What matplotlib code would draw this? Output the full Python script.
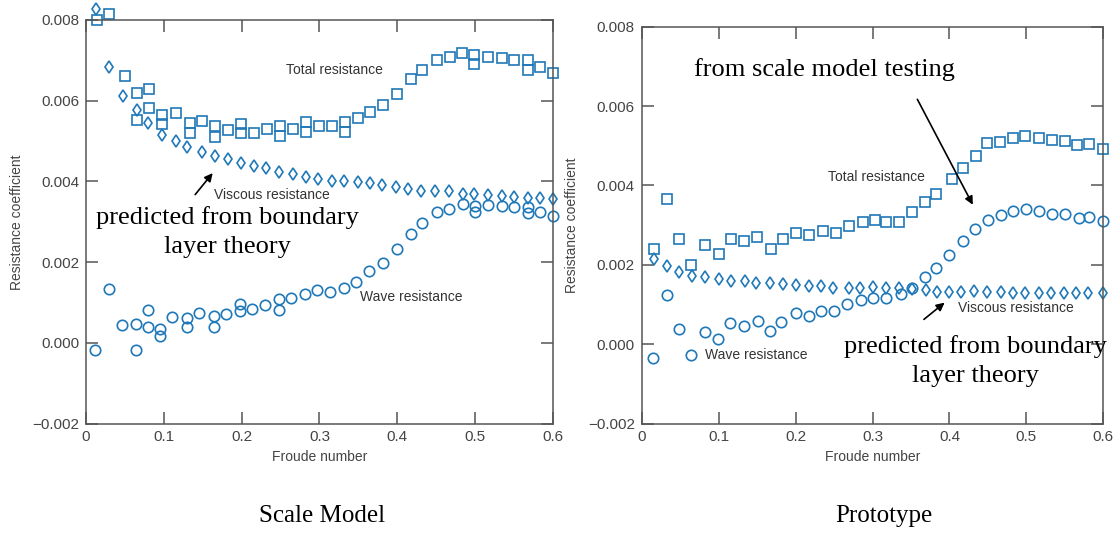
import numpy as np
import matplotlib.pyplot as plt

# ---- Scale model (left) ----
sm_total_f = [0.014, 0.029, 0.050, 0.065, 0.065, 0.081, 0.081, 0.097, 0.097, 0.116, 0.133, 0.133,
              0.149, 0.166, 0.166, 0.182, 0.199, 0.199, 0.216, 0.232, 0.249, 0.249, 0.266, 0.283,
              0.283, 0.299, 0.316, 0.333, 0.333, 0.349, 0.365, 0.382, 0.399, 0.417, 0.432, 0.451,
              0.468, 0.483, 0.499, 0.499, 0.517, 0.534, 0.550, 0.568, 0.568, 0.584, 0.600]
sm_total_c = [0.00800, 0.00814, 0.00660, 0.00620, 0.00552, 0.00628, 0.00583, 0.00564, 0.00542,
              0.00569, 0.00545, 0.00521, 0.00550, 0.00537, 0.00511, 0.00527, 0.00542, 0.00519,
              0.00521, 0.00530, 0.00537, 0.00512, 0.00531, 0.00546, 0.00523, 0.00537, 0.00537,
              0.00548, 0.00523, 0.00556, 0.00571, 0.00589, 0.00616, 0.00653, 0.00677, 0.00702,
              0.00709, 0.00717, 0.00713, 0.00692, 0.00709, 0.00705, 0.00702, 0.00700, 0.00677,
              0.00684, 0.00669]

sm_visc_f = [0.013, 0.029, 0.048, 0.065, 0.080, 0.097, 0.115, 0.130, 0.149, 0.166, 0.183, 0.199,
             0.216, 0.231, 0.248, 0.266, 0.283, 0.298, 0.316, 0.332, 0.350, 0.365, 0.381, 0.398,
             0.414, 0.430, 0.449, 0.467, 0.484, 0.498, 0.517, 0.534, 0.550, 0.568, 0.583, 0.600]
sm_visc_c = [0.00828, 0.00684, 0.00611, 0.00578, 0.00544, 0.00515, 0.00500, 0.00486, 0.00474,
             0.00463, 0.00455, 0.00446, 0.00438, 0.00432, 0.00424, 0.00418, 0.00410, 0.00405,
             0.00402, 0.00400, 0.00398, 0.00396, 0.00390, 0.00385, 0.00380, 0.00377, 0.00377,
             0.00375, 0.00370, 0.00369, 0.00366, 0.00364, 0.00362, 0.00360, 0.00358, 0.00356]

sm_wave_f = [0.012, 0.029, 0.046, 0.064, 0.064, 0.079, 0.079, 0.095, 0.095, 0.111, 0.130, 0.130,
             0.145, 0.164, 0.164, 0.180, 0.198, 0.198, 0.213, 0.230, 0.248, 0.248, 0.264, 0.281,
             0.297, 0.314, 0.331, 0.347, 0.364, 0.382, 0.400, 0.417, 0.432, 0.451, 0.467, 0.484,
             0.500, 0.500, 0.517, 0.534, 0.550, 0.568, 0.568, 0.584, 0.600]
sm_wave_c = [-0.00019, 0.00133, 0.00045, 0.00047, -0.00017, 0.00082, 0.00040, 0.00035, 0.00016,
             0.00065, 0.00061, 0.00039, 0.00073, 0.00067, 0.00040, 0.00071, 0.00097, 0.00078,
             0.00084, 0.00094, 0.00108, 0.00082, 0.00112, 0.00121, 0.00130, 0.00125, 0.00135,
             0.00150, 0.00177, 0.00197, 0.00233, 0.00270, 0.00296, 0.00323, 0.00331, 0.00344,
             0.00339, 0.00325, 0.00342, 0.00339, 0.00337, 0.00336, 0.00321, 0.00325, 0.00314]

# ---- Prototype (right) ----
pt_total_f = [0.016, 0.033, 0.049, 0.064, 0.082, 0.100, 0.116, 0.133, 0.150, 0.168, 0.183, 0.200,
              0.217, 0.235, 0.252, 0.269, 0.287, 0.303, 0.318, 0.335, 0.351, 0.368, 0.383, 0.403,
              0.418, 0.434, 0.449, 0.466, 0.482, 0.498, 0.517, 0.533, 0.550, 0.566, 0.582, 0.600]
pt_total_c = [0.00240, 0.00366, 0.00265, 0.00200, 0.00250, 0.00227, 0.00265, 0.00259, 0.00269,
              0.00241, 0.00265, 0.00281, 0.00276, 0.00284, 0.00280, 0.00298, 0.00307, 0.00313,
              0.00309, 0.00309, 0.00332, 0.00357, 0.00378, 0.00416, 0.00444, 0.00473, 0.00506,
              0.00509, 0.00520, 0.00524, 0.00520, 0.00515, 0.00512, 0.00501, 0.00505, 0.00492]

pt_visc_f = [0.016, 0.033, 0.049, 0.065, 0.082, 0.100, 0.116, 0.134, 0.149, 0.167, 0.183, 0.200,
             0.217, 0.233, 0.249, 0.269, 0.284, 0.300, 0.318, 0.335, 0.351, 0.370, 0.384, 0.399,
             0.415, 0.432, 0.449, 0.467, 0.482, 0.498, 0.516, 0.532, 0.549, 0.565, 0.580, 0.599]
pt_visc_c = [0.00214, 0.00197, 0.00183, 0.00172, 0.00168, 0.00164, 0.00159, 0.00159, 0.00155,
             0.00153, 0.00152, 0.00148, 0.00147, 0.00147, 0.00142, 0.00142, 0.00142, 0.00145,
             0.00141, 0.00141, 0.00139, 0.00136, 0.00132, 0.00132, 0.00132, 0.00134, 0.00132,
             0.00132, 0.00130, 0.00130, 0.00130, 0.00128, 0.00128, 0.00128, 0.00130, 0.00128]

pt_wave_f = [0.014, 0.033, 0.049, 0.064, 0.082, 0.099, 0.115, 0.133, 0.151, 0.167, 0.181, 0.200,
             0.217, 0.233, 0.250, 0.267, 0.285, 0.301, 0.318, 0.337, 0.351, 0.368, 0.383, 0.400,
             0.417, 0.433, 0.450, 0.467, 0.483, 0.500, 0.517, 0.533, 0.550, 0.568, 0.582, 0.600]
pt_wave_c = [-0.00035, 0.00123, 0.00037, -0.00028, 0.00030, 0.00013, 0.00054, 0.00046, 0.00058,
             0.00033, 0.00056, 0.00079, 0.00071, 0.00083, 0.00083, 0.00100, 0.00110, 0.00117,
             0.00117, 0.00126, 0.00142, 0.00168, 0.00191, 0.00225, 0.00259, 0.00290, 0.00314,
             0.00326, 0.00336, 0.00340, 0.00336, 0.00329, 0.00328, 0.00318, 0.00321, 0.00311]

x_ticks = [0, 0.1, 0.2, 0.3, 0.4, 0.5, 0.6]
x_labels = ['0', '0.1', '0.2', '0.3', '0.4', '0.5', '0.6']
y_ticks = [-0.002, 0.0, 0.002, 0.004, 0.006, 0.008]
y_labels = ['\u22120.002', '0.000', '0.002', '0.004', '0.006', '0.008']

BLUE = '#1f78b8'
GRAY = '#444444'
SANS = 'Liberation Sans'
SERIF = 'Liberation Serif'


def style_axes(ax):
    ax.set_xlim(0, 0.6)
    ax.set_ylim(-0.002, 0.008)
    ax.set_xticks(x_ticks)
    ax.set_xticklabels(x_labels, family=SANS, fontsize=11, color=GRAY)
    ax.set_yticks(y_ticks)
    ax.set_yticklabels(y_labels, family=SANS, fontsize=11, color=GRAY)
    ax.tick_params(direction='in', length=8.5, width=1.1, color='#555555',
                   top=True, right=True, pad=5)
    for s in ax.spines.values():
        s.set_color('#555555')
        s.set_linewidth(1.1)
    ax.set_xlabel('Froude number', family=SANS, fontsize=10, color=GRAY, labelpad=4)
    ax.set_ylabel('Resistance coefficient', family=SANS, fontsize=10, color=GRAY, labelpad=6)


def plot_series(ax, total_f, total_c, visc_f, visc_c, wave_f, wave_c):
    kw = dict(linestyle='none', markerfacecolor='none', markeredgecolor=BLUE,
              markeredgewidth=1.2, clip_on=False)
    ax.plot(total_f, total_c, marker='s', markersize=7.5, **kw)
    ax.plot(visc_f, visc_c, marker='d', markersize=6.5, **kw)
    ax.plot(wave_f, wave_c, marker='o', markersize=7.5, **kw)


fig = plt.figure(figsize=(11.19, 5.33), dpi=100)
ax1 = fig.add_axes([0.0769, 0.2054, 0.4172, 0.7571])
ax2 = fig.add_axes([0.5735, 0.2054, 0.4125, 0.7446])

plot_series(ax1, sm_total_f, sm_total_c, sm_visc_f, sm_visc_c, sm_wave_f, sm_wave_c)
plot_series(ax2, pt_total_f, pt_total_c, pt_visc_f, pt_visc_c, pt_wave_f, pt_wave_c)
style_axes(ax1)
style_axes(ax2)

small = dict(family=SANS, fontsize=10, color='#333333', va='center')
big = dict(family=SERIF, fontsize=19, color='black', ha='center', va='center', linespacing=1.38)

# left annotations
ax1.text(0.2575, 0.00676, 'Total resistance', **small)
ax1.text(0.165, 0.00366, 'Viscous resistance', **small)
ax1.text(0.352, 0.00114, 'Wave resistance', **small)
ax1.annotate('', xy=(0.165, 0.00426), xytext=(0.138, 0.00362),
             arrowprops=dict(arrowstyle='-|>', color='black', lw=1.2, mutation_scale=12))
ax1.text(0.182, 0.00275, 'predicted from boundary\nlayer theory', **big)

# right annotations
ax2.text(0.242, 0.00422, 'Total resistance', **small)
ax2.text(0.411, 0.00091, 'Viscous resistance', **small)
ax2.text(0.082, -0.00028, 'Wave resistance', **small)
ax2.text(0.2376, 0.00692, 'from scale model testing', **big)
ax2.annotate('', xy=(0.432, 0.00345), xytext=(0.3566, 0.00623),
             arrowprops=dict(arrowstyle='-|>', color='black', lw=1.2, mutation_scale=12))
ax2.annotate('', xy=(0.3965, 0.00109), xytext=(0.364, 0.00058),
             arrowprops=dict(arrowstyle='-|>', color='black', lw=1.2, mutation_scale=12))
ax2.text(0.434, -0.00043, 'predicted from boundary\nlayer theory', **big)

fig.text(0.288, 0.032, 'Scale Model', family=SERIF, fontsize=18, ha='center', va='center')
fig.text(0.790, 0.032, 'Prototype', family=SERIF, fontsize=18, ha='center', va='center')

fig.savefig('out.png', dpi=100)
